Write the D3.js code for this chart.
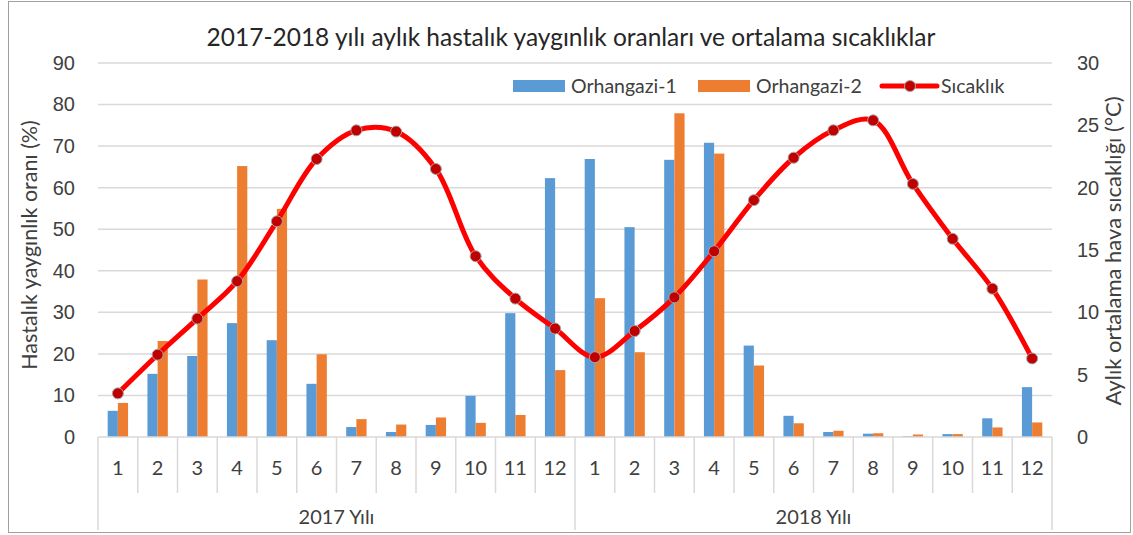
<!DOCTYPE html>
<html>
<head>
<meta charset="utf-8">
<script src="https://cdn.jsdelivr.net/npm/d3@7"></script>
<style>
  body { margin: 0; background: #fff; }
  svg { display: block; font-family: Lato, "Open Sans", sans-serif; }
  .tick text { fill: #404040; }
</style>
</head>
<body>
<svg id="chart" width="1133" height="535"></svg>
<script>
// data
var years = ['2017 Yılı', '2018 Yılı'];
var months = ['1', '2', '3', '4', '5', '6', '7', '8', '9', '10', '11', '12'];

var orhangazi1 = [6.3, 15.2, 19.5, 27.4, 23.3, 12.8, 2.4, 1.2, 2.9, 9.9, 29.8, 62.3,
                  66.9, 50.5, 66.7, 70.8, 22.0, 5.1, 1.2, 0.8, 0.2, 0.7, 4.5, 12.0];
var orhangazi2 = [8.2, 23.1, 37.9, 65.2, 54.9, 19.9, 4.3, 3.0, 4.7, 3.4, 5.3, 16.1,
                  33.4, 20.4, 77.9, 68.2, 17.2, 3.3, 1.5, 0.9, 0.6, 0.7, 2.3, 3.5];
var sicaklik = [3.5, 6.6, 9.5, 12.5, 17.3, 22.3, 24.6, 24.5, 21.5, 14.5, 11.1, 8.7,
                6.4, 8.5, 11.2, 14.9, 19.0, 22.4, 24.6, 25.4, 20.3, 15.9, 11.9, 6.3];

var leftTicks = [0, 10, 20, 30, 40, 50, 60, 70, 80, 90];
var rightTicks = [0, 5, 10, 15, 20, 25, 30];

var series = [
  { name: 'Orhangazi-1', values: orhangazi1, color: '#5b9bd5' },
  { name: 'Orhangazi-2', values: orhangazi2, color: '#ed7d31' }
];

var svg = d3.select('#chart');
var plotLeft = 98, plotRight = 1052, plotTop = 63, plotBottom = 437;

var keys = [];
years.forEach(function(y, yi) {
  months.forEach(function(m, mi) { keys.push(yi * 12 + mi); });
});

// outer frame
svg.append('rect')
    .attr('x', 8.5).attr('y', 1.5)
    .attr('width', 1122).attr('height', 531)
    .attr('fill', '#fff')
    .attr('stroke', '#a0a0a0');

var x = d3.scaleBand().domain(keys).range([plotLeft, plotRight]);
var xInner = d3.scaleBand().domain([0, 1])
    .range([0, x.bandwidth()]).paddingOuter(0.95);
var y = d3.scaleLinear().domain([0, 90]).range([plotBottom, plotTop]);
var y2 = d3.scaleLinear().domain([0, 30]).range([plotBottom, plotTop]);

// gridlines
svg.append('g')
  .selectAll('line')
  .data(leftTicks.slice(1))
  .join('line')
    .attr('x1', plotLeft).attr('x2', plotRight)
    .attr('y1', function(d) { return y(d); })
    .attr('y2', function(d) { return y(d); })
    .attr('stroke', '#d9d9d9')
    .attr('stroke-width', 1.5);

// left axis
var yAxis = svg.append('g')
    .attr('transform', 'translate(' + plotLeft + ',0)')
    .call(d3.axisLeft(y).tickValues(leftTicks).tickSize(0).tickPadding(23));
yAxis.select('.domain').remove();
yAxis.selectAll('text').attr('font-size', 20);

// right axis
var y2Axis = svg.append('g')
    .attr('transform', 'translate(' + plotRight + ',0)')
    .call(d3.axisRight(y2).tickValues(rightTicks).tickSize(0).tickPadding(25));
y2Axis.select('.domain').remove();
y2Axis.selectAll('text').attr('font-size', 20);

// bars
series.forEach(function(s, si) {
  svg.append('g')
    .selectAll('rect')
    .data(s.values)
    .join('rect')
      .attr('x', function(d, i) { return x(keys[i]) + xInner(si); })
      .attr('width', xInner.bandwidth())
      .attr('y', function(d) { return y(d); })
      .attr('height', function(d) { return y(0) - y(d); })
      .attr('fill', s.color);
});

// category axis (two levels)
var axisG = svg.append('g').attr('stroke', '#d9d9d9').attr('stroke-width', 1.5);
axisG.append('line')
    .attr('x1', plotLeft).attr('x2', plotRight)
    .attr('y1', plotBottom).attr('y2', plotBottom);
axisG.selectAll('line.sep')
  .data(d3.range(0, 25))
  .join('line')
    .attr('class', 'sep')
    .attr('x1', function(d) { return plotLeft + d * x.step(); })
    .attr('x2', function(d) { return plotLeft + d * x.step(); })
    .attr('y1', plotBottom)
    .attr('y2', function(d) { return d % 12 === 0 ? 530 : 493; });

svg.append('g')
  .selectAll('text')
  .data(keys)
  .join('text')
    .attr('x', function(d) { return x(d) + x.bandwidth() / 2; })
    .attr('y', 475)
    .attr('text-anchor', 'middle')
    .attr('font-size', 20)
    .attr('fill', '#404040')
    .text(function(d) { return months[d % 12]; });

svg.append('g')
  .selectAll('text')
  .data(years)
  .join('text')
    .attr('x', function(d, i) { return plotLeft + (i * 12 + 6) * x.step(); })
    .attr('y', 524)
    .attr('text-anchor', 'middle')
    .attr('font-size', 20)
    .attr('fill', '#404040')
    .text(function(d) { return d; });

// temperature line
var line = d3.line()
    .x(function(d, i) { return x(keys[i]) + x.bandwidth() / 2; })
    .y(function(d) { return y2(d); })
    .curve(d3.curveCatmullRom.alpha(0.5));

svg.append('path')
    .datum(sicaklik)
    .attr('d', line)
    .attr('fill', 'none')
    .attr('stroke', '#ff0000')
    .attr('stroke-width', 5);

svg.append('g')
  .selectAll('circle')
  .data(sicaklik)
  .join('circle')
    .attr('cx', function(d, i) { return x(keys[i]) + x.bandwidth() / 2; })
    .attr('cy', function(d) { return y2(d); })
    .attr('r', 5.5)
    .attr('fill', '#c00000')
    .attr('stroke', '#a5a5a5')
    .attr('stroke-width', 1);

// title
svg.append('text')
    .attr('x', 571).attr('y', 46)
    .attr('text-anchor', 'middle')
    .attr('font-size', 24.5)
    .attr('fill', '#262626')
    .text('2017-2018 yılı aylık hastalık yaygınlık oranları ve ortalama sıcaklıklar');

// axis titles
svg.append('text')
    .attr('transform', 'translate(37,245) rotate(-90)')
    .attr('text-anchor', 'middle')
    .attr('font-size', 21.5)
    .attr('fill', '#404040')
    .text('Hastalık yaygınlık oranı (%)');

svg.append('text')
    .attr('transform', 'translate(1121,251) rotate(-90)')
    .attr('text-anchor', 'middle')
    .attr('font-size', 22)
    .attr('fill', '#404040')
    .text('Aylık ortalama hava sıcaklığı (°C)');

// legend
var legend = svg.append('g').attr('font-size', 19.5).attr('fill', '#404040');
var legendItems = [
  { name: 'Orhangazi-1', x: 513 },
  { name: 'Orhangazi-2', x: 698 },
  { name: 'Sıcaklık', x: 882 }
];
legendItems.forEach(function(d, i) {
  var g = legend.append('g').attr('transform', 'translate(' + d.x + ',86)');
  if (i < 2) {
    g.append('rect')
        .attr('x', 0).attr('y', -6)
        .attr('width', 52).attr('height', 12)
        .attr('fill', series[i].color);
    g.append('text').attr('x', 58).attr('y', 7).text(d.name);
  } else {
    g.append('line')
        .attr('x1', 0).attr('x2', 55)
        .attr('stroke', '#ff0000').attr('stroke-width', 5)
        .attr('stroke-linecap', 'round');
    g.append('circle')
        .attr('cx', 28).attr('r', 5.5)
        .attr('fill', '#c00000').attr('stroke', '#a5a5a5');
    g.append('text').attr('x', 59).attr('y', 7).text(d.name);
  }
});
</script>
</body>
</html>
